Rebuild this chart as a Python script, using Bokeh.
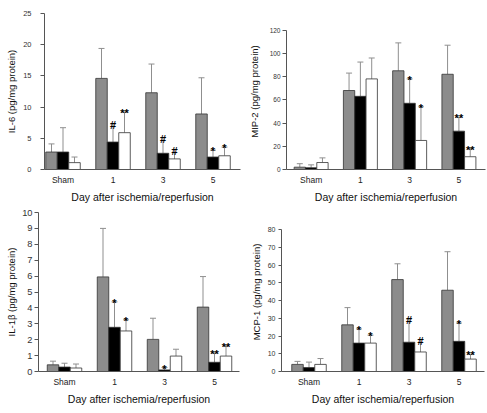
from bokeh.plotting import figure
from bokeh.layouts import column, row
from bokeh.models import ColumnDataSource, Range1d, FixedTicker, Whisker, TeeHead
from bokeh.core.properties import value
from bokeh.embed import file_html
from bokeh.resources import INLINE

groups = ["Sham", "1", "3", "5"]

# IL-6
il6_gray = [2.8, 14.6, 12.3, 8.9]
il6_gray_sd = [1.3, 4.8, 4.6, 5.8]
il6_black = [2.8, 4.4, 2.6, 2.0]
il6_black_sd = [3.9, 2.9, 2.5, 1.1]
il6_white = [1.1, 5.9, 1.7, 2.2]
il6_white_sd = [0.9, 3.3, 1.5, 1.4]
il6_black_sig = ["", "#", "#", "*"]
il6_white_sig = ["", "**", "#", "*"]

# MIP-2
mip2_gray = [2, 68, 85, 82]
mip2_gray_sd = [3, 15, 24, 25]
mip2_black = [1.5, 63, 57, 33]
mip2_black_sd = [2.5, 29.5, 21, 12]
mip2_white = [6, 78, 25, 11]
mip2_white_sd = [4, 18, 29, 7]
mip2_black_sig = ["", "", "*", "**"]
mip2_white_sig = ["", "", "*", "**"]

# IL-1beta
il1b_gray = [0.42, 5.95, 2.02, 4.05]
il1b_gray_sd = [0.23, 3.05, 1.33, 1.92]
il1b_black = [0.28, 2.78, 0.10, 0.58]
il1b_black_sd = [0.24, 1.60, 0.15, 0.59]
il1b_white = [0.22, 2.55, 0.97, 0.97]
il1b_white_sd = [0.25, 0.70, 0.43, 0.65]
il1b_black_sig = ["", "*", "*", "**"]
il1b_white_sig = ["", "*", "", "**"]

# MCP-1
mcp1_gray = [4, 26.3, 51.8, 45.8]
mcp1_gray_sd = [1.7, 9.7, 8.9, 21.7]
mcp1_black = [2.2, 16, 16.5, 17]
mcp1_black_sd = [3.1, 8, 13.1, 10.3]
mcp1_white = [4, 16, 11, 7]
mcp1_white_sd = [3.3, 4.5, 7, 2.7]
mcp1_black_sig = ["", "*", "#", "*"]
mcp1_white_sig = ["", "*", "#", "**"]

FONT = "Liberation Sans"
BW = 0.23
ERR_COLOR = "#8f8f8f"
AXIS_COLOR = "#555555"


def panel(ylabel, ymax, ystep, yview, series, sigs, width, height, borders, xr,
          tick_font, tick_out, tick_standoff, label_standoff):
    p = figure(width=width, height=height, output_backend="svg", toolbar_location=None,
               x_range=Range1d(*xr), y_range=Range1d(0, yview), title=None)
    p.min_border_left, p.min_border_right, p.min_border_top, p.min_border_bottom = borders
    p.outline_line_color = None
    p.xgrid.visible = False
    p.ygrid.visible = False
    p.background_fill_color = "white"
    p.border_fill_color = "white"

    n = len(groups)
    offsets = [-BW, 0.0, BW]
    fills = ["#8c8c8c", "#000000", "#ffffff"]
    for (vals, sds), off, fill, sig in zip(series, offsets, fills, [None] + sigs):
        xs = [i + off for i in range(n)]
        tops = [v + s for v, s in zip(vals, sds)]
        src = ColumnDataSource(dict(x=xs, top=vals, upper=tops))
        p.vbar(x="x", top="top", width=BW, source=src, fill_color=fill,
               line_color="#333333", line_width=0.8)
        w = Whisker(base="x", lower="top", upper="upper", source=src,
                    line_color=ERR_COLOR, line_width=1, lower_head=None,
                    upper_head=TeeHead(size=6, line_color=ERR_COLOR, line_width=1))
        p.add_layout(w)
        if sig is not None:
            ssrc = ColumnDataSource(dict(x=xs, y=tops, t=sig))
            p.text(x="x", y="y", text="t", source=ssrc, text_align="center",
                   text_baseline="alphabetic", text_font=value(FONT),
                   text_font_size="11px", text_font_style="bold",
                   text_color="#000000", y_offset=1)

    p.xaxis.ticker = FixedTicker(ticks=list(range(n)))
    p.xaxis.major_label_overrides = {i: g for i, g in enumerate(groups)}
    p.xaxis.major_tick_line_color = None
    p.xaxis.minor_tick_line_color = None
    p.xaxis.major_tick_out = 0
    p.xaxis.major_label_standoff = 5
    p.xaxis.major_label_text_font = FONT
    p.xaxis.major_label_text_font_size = "8.5px"
    p.xaxis.major_label_text_color = "#222222"
    p.xaxis.axis_label = "Day after ischemia/reperfusion"
    p.xaxis.axis_label_text_font = FONT
    p.xaxis.axis_label_text_font_size = "10.5px"
    p.xaxis.axis_label_text_font_style = "normal"
    p.xaxis.axis_label_text_color = "#111111"
    p.xaxis.axis_label_standoff = 3
    p.xaxis.axis_line_color = AXIS_COLOR

    p.yaxis.ticker = FixedTicker(ticks=list(range(0, ymax + 1, ystep)))
    p.yaxis.bounds = (0, ymax)
    p.yaxis.minor_tick_line_color = None
    p.yaxis.major_tick_in = 0
    p.yaxis.major_tick_out = tick_out
    p.yaxis.major_tick_line_color = AXIS_COLOR
    p.yaxis.major_label_standoff = tick_standoff
    p.yaxis.major_label_text_font = FONT
    p.yaxis.major_label_text_font_size = tick_font
    p.yaxis.major_label_text_color = "#333333"
    p.yaxis.axis_label = ylabel
    p.yaxis.axis_label_text_font = FONT
    p.yaxis.axis_label_text_font_size = "9.5px"
    p.yaxis.axis_label_text_font_style = "normal"
    p.yaxis.axis_label_text_color = "#111111"
    p.yaxis.axis_label_standoff = label_standoff
    p.yaxis.axis_line_color = AXIS_COLOR
    return p


# top row: frame y 13..173 ; bottom row: frame y 212..371 (figure-relative 7..166)
p1 = panel("IL-6 (pg/mg protein)", 25, 5, 25,
           [(il6_gray, il6_gray_sd), (il6_black, il6_black_sd), (il6_white, il6_white_sd)],
           [il6_black_sig, il6_white_sig], 245, 205, (44, 5, 13, 32), (-0.37, 3.55),
           "7.5px", 4, 9, 3)
p2 = panel("MIP-2 (pg/mg protein)", 120, 20, 134.3,
           [(mip2_gray, mip2_gray_sd), (mip2_black, mip2_black_sd), (mip2_white, mip2_white_sd)],
           [mip2_black_sig, mip2_white_sig], 242, 205, (38, 2, 13, 32), (-0.5, 3.54),
           "6.5px", 4, 2, 7)
p3 = panel("IL-1\u03b2 (pg/mg protein)", 10, 1, 10,
           [(il1b_gray, il1b_gray_sd), (il1b_black, il1b_black_sd), (il1b_white, il1b_white_sd)],
           [il1b_black_sig, il1b_white_sig], 245, 205, (38, 6, 7, 39), (-0.52, 3.5),
           "9.3px", 4, 2, 2)
p4 = panel("MCP-1 (pg/mg protein)", 80, 10, 89.6,
           [(mcp1_gray, mcp1_gray_sd), (mcp1_black, mcp1_black_sd), (mcp1_white, mcp1_white_sd)],
           [mcp1_black_sig, mcp1_white_sig], 242, 205, (36, 3, 7, 39), (-0.55, 3.51),
           "7px", 3, 3, 3)

layout = column(row(p1, p2, spacing=0), row(p3, p4, spacing=0), spacing=0)
open("out.html", "w").write(file_html(layout, INLINE))
